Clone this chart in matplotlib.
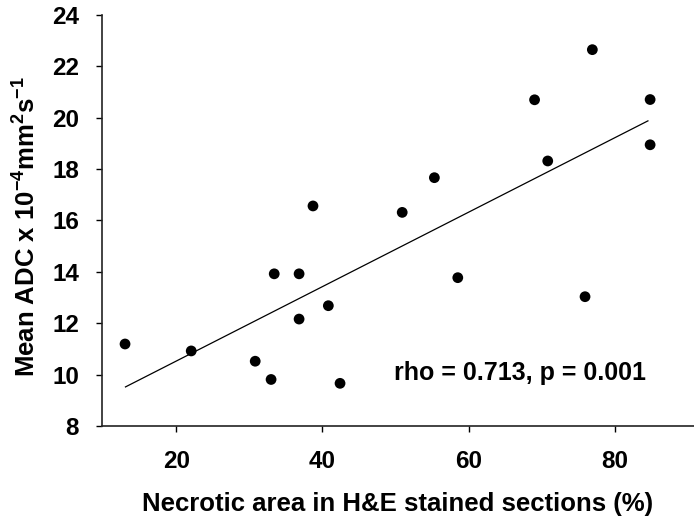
import matplotlib
matplotlib.use("Agg")
import matplotlib.pyplot as plt

plt.rcParams['font.family'] = ['Liberation Sans', 'DejaVu Sans']
plt.rcParams['mathtext.fontset'] = 'custom'
plt.rcParams['mathtext.rm'] = 'Liberation Sans:bold'
plt.rcParams['mathtext.bf'] = 'Liberation Sans:bold'
plt.rcParams['mathtext.default'] = 'bf'

# data
necrosis = [13.0, 22.05, 30.8, 32.97, 33.4, 36.8, 36.8, 38.7, 40.8, 42.4,
            50.9, 55.3, 58.5, 69.0, 70.8, 75.9, 76.9, 84.8, 84.8]
adc = [11.19, 10.92, 10.52, 9.81, 13.92, 13.92, 12.16, 16.56, 12.68, 9.66,
       16.31, 17.66, 13.77, 20.69, 18.31, 13.03, 22.64, 20.70, 18.94]
fit_x = [13.06, 84.5]
fit_y = [9.52, 19.87]
x_ticks = [20, 40, 60, 80]
y_ticks = [8, 10, 12, 14, 16, 18, 20, 22, 24]
annotation = "rho = 0.713, p = 0.001"

fig = plt.figure(figsize=(6.94, 5.23), dpi=100)
ax = fig.add_axes([102/694, 1 - 426/523, (694 - 102)/694, (426 - 14.7)/523])

ax.plot(fit_x, fit_y, color='black', lw=0.9)
ax.scatter(necrosis, adc, s=60, color='black', zorder=3, edgecolors='none')

ax.set_xlim(9.85, 90.8)
ax.set_ylim(8, 24)
ax.set_xticks(x_ticks)
ax.set_yticks(y_ticks)
for s in ['top', 'right']:
    ax.spines[s].set_visible(False)
for s in ['left', 'bottom']:
    ax.spines[s].set_linewidth(1.2)
    ax.spines[s].set_color('#222222')
ax.tick_params(direction='out', length=4, width=1.0, pad=13, labelsize=17.5)
ax.tick_params(axis='y', pad=12.5)
for lab in ax.get_xticklabels() + ax.get_yticklabels():
    lab.set_fontweight('bold')

ax.set_xlabel("Necrotic area in H&E stained sections (%)", fontsize=18.5,
              fontweight='bold', va='top')
ax.xaxis.set_label_coords(0.5, -0.161)
ax.set_ylabel(r"Mean ADC x 10$^{-4}$mm$^{2}$s$^{-1}$", fontsize=18.5,
              fontweight='bold', va='bottom')
ax.yaxis.set_label_coords(-0.103, 0.485)

ax.text(67.0, 10.05, annotation, fontsize=18,
        fontweight='bold', ha='center', va='center')

fig.savefig("out.png", dpi=100)
